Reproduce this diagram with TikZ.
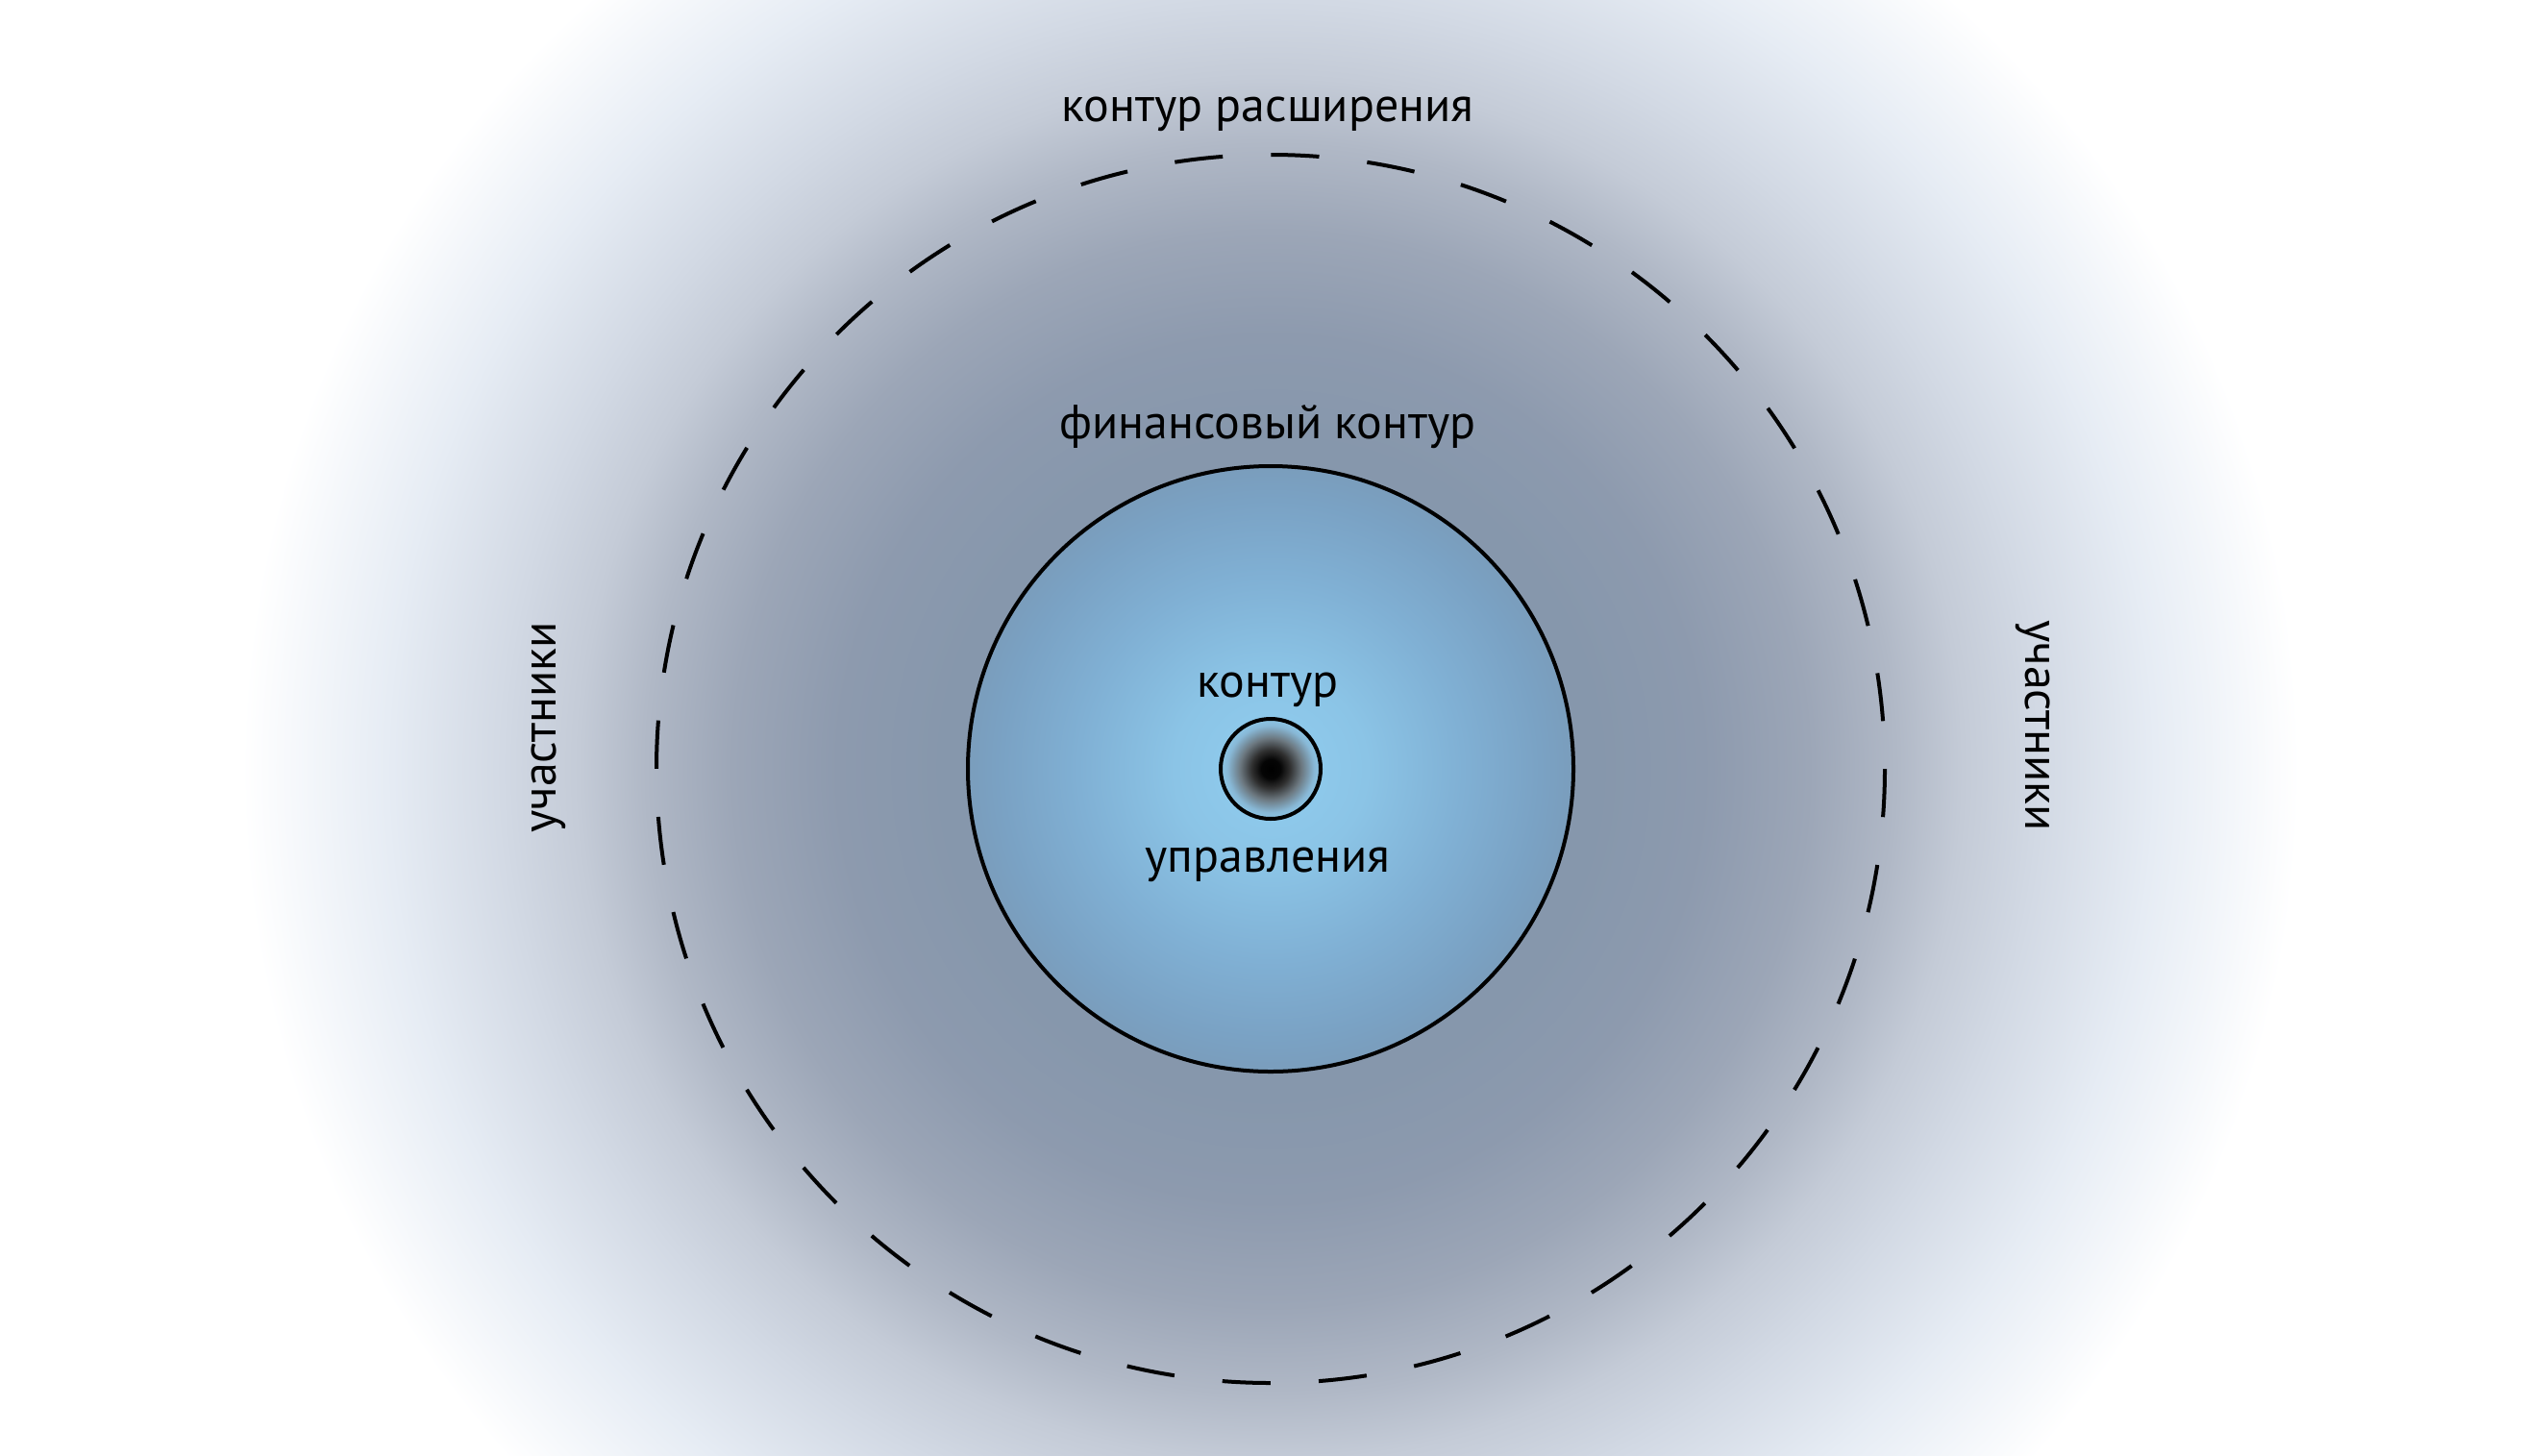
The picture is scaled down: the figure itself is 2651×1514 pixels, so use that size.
\documentclass[tikz,border=0pt]{standalone}
\usepackage{fontspec}
\setmainfont{PT Sans}
\definecolor{og0}{HTML}{8192A8}
\definecolor{og1}{HTML}{8697AC}
\definecolor{og2}{HTML}{8D9AAE}
\definecolor{og3}{HTML}{9CA6B7}
\definecolor{og4}{HTML}{B0B8C6}
\definecolor{og5}{HTML}{C4CBD7}
\definecolor{og6}{HTML}{D2D9E4}
\definecolor{og7}{HTML}{E6ECF4}
\definecolor{og8}{HTML}{F3F6FA}
\definecolor{ib0}{HTML}{90CDEF}
\definecolor{ib1}{HTML}{8BC4E6}
\definecolor{ib2}{HTML}{80B0D4}
\definecolor{ib3}{HTML}{7AA2C4}
\definecolor{ib4}{HTML}{7A9DBC}
\definecolor{cc1}{HTML}{303030}
\definecolor{cc2}{HTML}{6C7880}
\definecolor{cc3}{HTML}{88B8D6}
\definecolor{cc4}{HTML}{8CC6E6}
% the path's bounding box maps onto the central 50bp square: edge of circle = 25bp
\pgfdeclareradialshading{outerglow}{\pgfpointorigin}{color(0bp)=(og0); color(7.95bp)=(og1); color(10.52bp)=(og2); color(13.08bp)=(og3); color(15.19bp)=(og4); color(16.82bp)=(og5); color(18.69bp)=(og6); color(21.5bp)=(og7); color(23.36bp)=(og8); color(25bp)=(white); color(50bp)=(white)}
\pgfdeclareradialshading{innerblue}{\pgfpointorigin}{color(0bp)=(ib0); color(7.94bp)=(ib1); color(15.87bp)=(ib2); color(22.22bp)=(ib3); color(25bp)=(ib4); color(50bp)=(ib4)}
\pgfdeclareradialshading{coreglow}{\pgfpointorigin}{color(0bp)=(black); color(4.8bp)=(black!98); color(9.6bp)=(cc1); color(15.4bp)=(cc2); color(21.65bp)=(cc3); color(25bp)=(cc4); color(50bp)=(cc4)}
\tikzset{
  lbl/.style={font=\fontsize{14.2}{17}\selectfont, anchor=base, inner sep=0pt, text=black},
  ring/.style={draw=black, line width=0.4mm},
}
\begin{document}
\begin{tikzpicture}[x=0.1mm,y=-0.1mm]
\useasboundingbox (0,0) rectangle (2651,1514);
\fill[white] (0,0) rectangle (2651,1514);
\coordinate (c) at (1322,800);
\begin{scope}
  \clip (0,0) rectangle (2651,1514);
  \shade[shading=outerglow] (c) circle (1070);
\end{scope}
% dashed expansion contour
\draw[ring, dash pattern=on 5.02mm off 5.02mm] (c) circle (639);
% financial contour
\shade[shading=innerblue] (c) circle (315);
\draw[ring] (c) circle (315);
% management contour
\shade[shading=coreglow] (c) circle (52);
\draw[ring] (c) circle (52);
% labels
\node[lbl] (ext) at (1319,126) {контур расширения};
\node[lbl] (fin) at (1319,456) {финансовый контур};
\node[lbl] (mg1) at (1319,725) {контур};
\node[lbl] (mg2) at (1319,907) {управления};
\node[lbl, rotate=90] (pl) at (578,757) {участники};
\node[lbl, rotate=-90] (pr) at (2107,755) {участники};
\end{tikzpicture}
\end{document}
